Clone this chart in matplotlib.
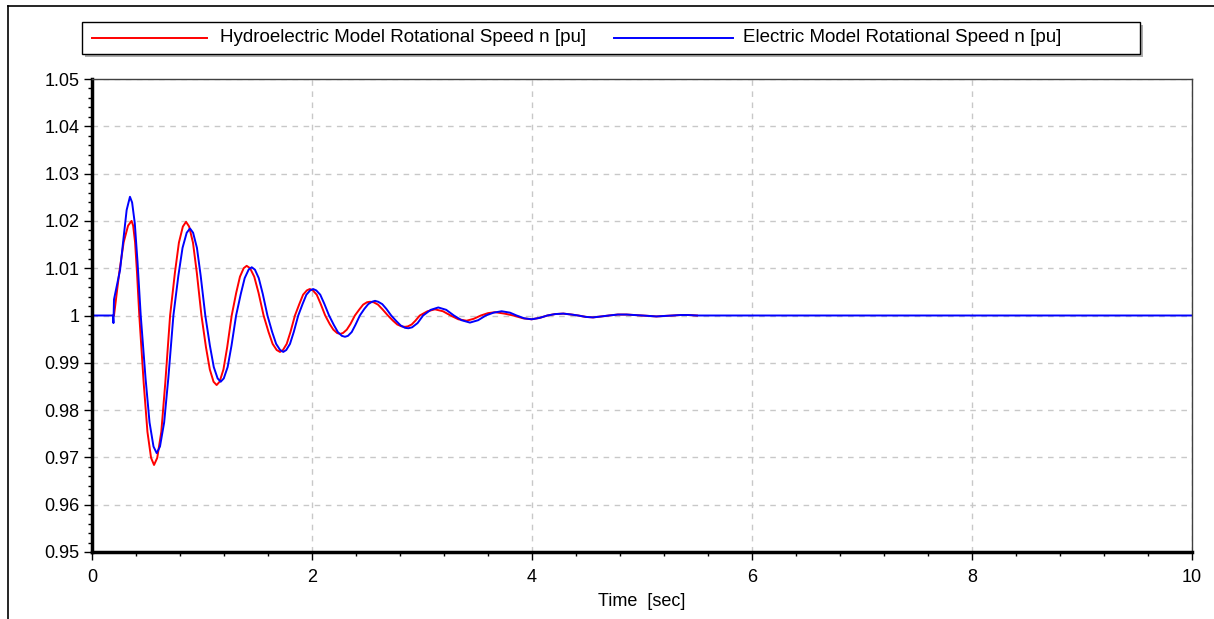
import matplotlib.pyplot as plt
from matplotlib.ticker import MultipleLocator
from matplotlib.patches import Rectangle

plt.rcParams['font.family'] = ['Liberation Sans', 'DejaVu Sans']

# values; speed deviation from 1 pu in units of 1e-4 pu
t_hydro = [0.20, 0.248, 0.288, 0.328, 0.36, 0.374, 0.3915, 0.409, 0.43,
           0.470, 0.504, 0.537, 0.564, 0.593, 0.630, 0.666, 0.71,
           0.7535, 0.790, 0.826, 0.855, 0.883, 0.918, 0.953, 0.995,
           1.036, 1.071, 1.105, 1.133, 1.160, 1.195, 1.229, 1.27,
           1.311, 1.345, 1.379, 1.406, 1.437, 1.475, 1.514, 1.56,
           1.605, 1.642, 1.679, 1.709, 1.736, 1.770, 1.804, 1.845,
           1.886, 1.919, 1.953, 1.98, 2.008, 2.043, 2.078, 2.12,
           2.161, 2.194, 2.228, 2.255, 2.282, 2.316, 2.3495, 2.39,
           2.431, 2.465, 2.50, 2.527, 2.560, 2.600, 2.641, 2.69,
           2.7365, 2.775, 2.814, 2.845, 2.872, 2.906, 2.94, 2.98,
           3.05, 3.118, 3.19, 3.26, 3.33, 3.406, 3.47, 3.535, 3.60, 3.664, 3.75, 3.83,
           3.92, 3.997, 4.07, 4.14, 4.21, 4.285, 4.36, 4.42, 4.49, 4.555, 4.63, 4.70,
           4.78, 4.86, 4.93, 5.00, 5.07, 5.13, 5.20, 5.28, 5.35, 5.42, 5.50]
dn_hydro = [0, 91, 155, 190, 200, 190, 155, 91, 0,
            -143, -246, -301, -316, -301, -246, -143, 0,
            90, 154, 188, 198, 188, 154, 90, 0,
            -67, -114, -140, -147, -140, -114, -67, 0,
            48, 82, 100, 105, 100, 82, 48, 0,
            -35, -60, -73, -77, -73, -60, -35, 0,
            25, 44, 53, 56, 53, 44, 25, 0,
            -18, -30, -37, -39, -37, -30, -18, 0,
            13, 23, 28, 29, 28, 23, 13, 0,
            -11, -19, -23, -24, -23, -19, -11, 0,
            9, 13, 9, 0, -8, -11, -7, 0, 5, 7, 4, 0,
            -6, -8, -5, 0, 3, 4, 2, 0, -3, -4, -2, 0,
            2, 2, 1, 0, -1, -2, -1, 0, 1, 1, 0]

t_elec = [0.0, 0.19, 0.195, 0.20, 0.255, 0.285, 0.315, 0.345, 0.3646, 0.389, 0.4136, 0.443,
          0.4865, 0.523, 0.559, 0.588, 0.618, 0.656, 0.694, 0.74,
          0.785, 0.823, 0.861, 0.891, 0.919, 0.954, 0.988, 1.03,
          1.072, 1.107, 1.142, 1.17, 1.198, 1.233, 1.268, 1.31,
          1.353, 1.388, 1.424, 1.452, 1.481, 1.516, 1.552, 1.595,
          1.638, 1.674, 1.710, 1.739, 1.766, 1.800, 1.834, 1.875,
          1.9155, 1.949, 1.983, 2.01, 2.039, 2.075, 2.1115, 2.155,
          2.1985, 2.235, 2.271, 2.30, 2.327, 2.361, 2.3945, 2.435,
          2.476, 2.511, 2.545, 2.573, 2.602, 2.639, 2.676, 2.72,
          2.767, 2.806, 2.845, 2.876, 2.91, 2.96, 3.01,
          3.08, 3.148, 3.22, 3.29, 3.36, 3.436, 3.51, 3.58, 3.65, 3.724, 3.80, 3.86,
          3.93, 3.997, 4.07, 4.14, 4.21, 4.285, 4.36, 4.42, 4.49, 4.555, 4.63, 4.70,
          4.78, 4.86, 4.93, 5.00, 5.07, 5.13, 5.20, 5.28, 5.35, 5.42, 5.50, 10.0]
dn_elec = [0, 0, -16, 34, 96, 160, 223, 251, 239, 195, 114, 0,
           -132, -226, -277, -291, -277, -226, -132, 0,
           84, 143, 175, 184, 175, 143, 84, 0,
           -64, -109, -133, -140, -133, -109, -64, 0,
           46, 79, 97, 102, 97, 79, 46, 0,
           -35, -60, -73, -77, -73, -60, -35, 0,
           25, 44, 53, 56, 53, 44, 25, 0,
           -20, -35, -43, -45, -43, -35, -20, 0,
           14, 24, 29, 31, 29, 24, 14, 0,
           -12, -21, -26, -27, -25, -16, 0,
           12, 17, 12, 0, -10, -15, -10, 0, 6, 9, 6, 0,
           -6, -8, -5, 0, 3, 4, 2, 0, -3, -4, -2, 0,
           2, 2, 1, 0, -1, -2, -1, 0, 1, 1, 0, 0]

n_hydro = [1 + d * 1e-4 for d in dn_hydro]
n_elec = [1 + d * 1e-4 for d in dn_elec]

labels = ['Hydroelectric Model Rotational Speed n [pu]',
          'Electric Model Rotational Speed n [pu]']
colors = ['#ff0000', '#0000ff']
yticks = [0.95, 0.96, 0.97, 0.98, 0.99, 1.0, 1.01, 1.02, 1.03, 1.04, 1.05]
ytick_labels = ['0.95', '0.96', '0.97', '0.98', '0.99', '1', '1.01', '1.02',
                '1.03', '1.04', '1.05']

W, H = 1214, 619
fig = plt.figure(figsize=(W / 100, H / 100), dpi=100)
ax = fig.add_axes([92 / W, 1 - 552 / H, 1100 / W, 473 / H])

ax.plot(t_hydro, n_hydro, color=colors[0], lw=1.4)
ax.plot(t_elec, n_elec, color=colors[1], lw=1.4)

ax.set_xlim(0, 10)
ax.set_ylim(0.95, 1.05)
ax.xaxis.set_major_locator(MultipleLocator(2))
ax.xaxis.set_minor_locator(MultipleLocator(0.4))
ax.set_yticks(yticks)
ax.set_yticklabels(ytick_labels)
ax.yaxis.set_minor_locator(MultipleLocator(0.002))
ax.tick_params(which='major', direction='out', length=6, width=1, labelsize=13,
               colors='black')
ax.tick_params(axis='x', which='major', pad=6)
ax.tick_params(axis='y', which='major', pad=3)
ax.tick_params(which='minor', direction='out', length=3, width=1)
ax.grid(True, which='major', color='#c8c8c8', linestyle=(0, (4, 4)), lw=1)

for s in ['left', 'bottom']:
    ax.spines[s].set_linewidth(2.5)
for s in ['top', 'right']:
    ax.spines[s].set_linewidth(1)
    ax.spines[s].set_color('#404040')

ax.set_xlabel('Time  [sec]', fontsize=13, labelpad=5)

# legend box drawn like the original (fixed box with drop shadow)
def fx(px):
    return px / W

def fy(py):
    return 1 - py / H

fig.add_artist(Rectangle((fx(85), fy(57)), fx(1058), 32 / H, transform=fig.transFigure,
                         facecolor='#8a8a8a', edgecolor='none', alpha=0.7))
fig.add_artist(Rectangle((fx(82), fy(54)), fx(1058), 32 / H, transform=fig.transFigure,
                         facecolor='white', edgecolor='black', lw=1))
line_x = [(92, 207), (614, 733)]
text_x = [220, 743]
for (x0, x1), tx, lab, c in zip(line_x, text_x, labels, colors):
    fig.add_artist(plt.Line2D([fx(x0), fx(x1)], [fy(38), fy(38)], color=c, lw=1.4,
                              transform=fig.transFigure))
    fig.text(fx(tx), fy(38), lab, fontsize=13.5, va='center', ha='left')

# outer frame lines
fig.add_artist(plt.Line2D([fx(8), fx(8)], [0, fy(6)], color='black', lw=1.2,
                          transform=fig.transFigure))
fig.add_artist(plt.Line2D([fx(8), 1], [fy(6), fy(6)], color='black', lw=1.2,
                          transform=fig.transFigure))

fig.savefig('out.png', dpi=100)
